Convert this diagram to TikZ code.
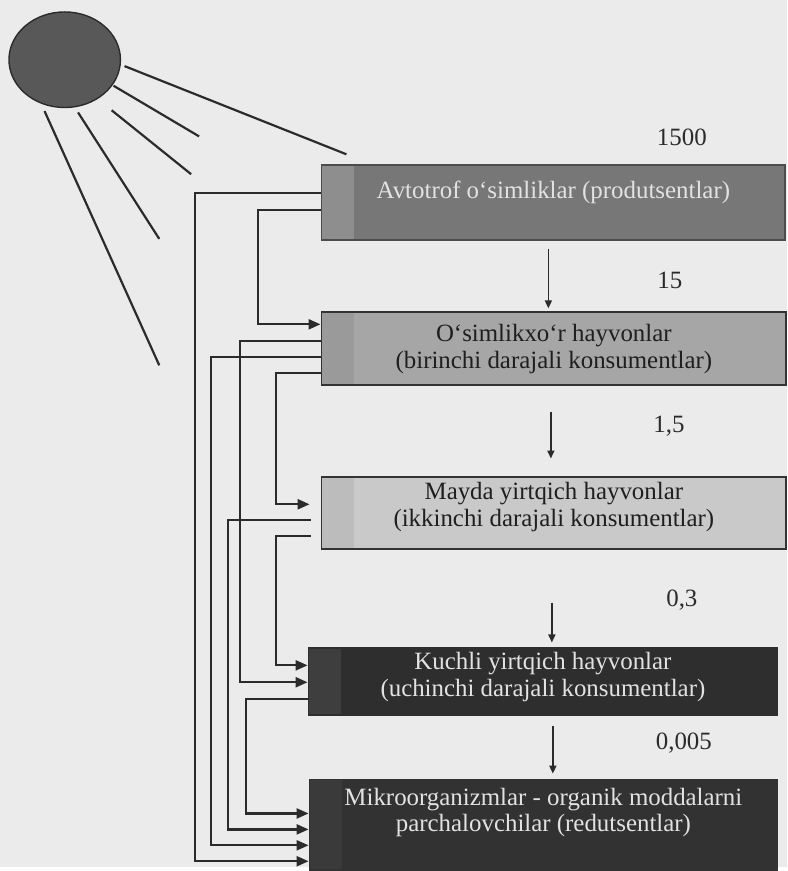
\documentclass[tikz,border=0pt]{standalone}
\usepackage{fontspec}
\setmainfont{Liberation Serif}
\usetikzlibrary{positioning,arrows.meta,shapes.geometric}

\definecolor{paper}{HTML}{EBEBEB}
\definecolor{ink}{HTML}{2B2B2B}
\definecolor{sunfill}{HTML}{585858}
\definecolor{levA}{HTML}{777777}
\definecolor{levAband}{HTML}{8E8E8E}
\definecolor{levB}{HTML}{A6A6A6}
\definecolor{levBband}{HTML}{9A9A9A}
\definecolor{levC}{HTML}{C9C9C9}
\definecolor{levCband}{HTML}{BCBCBC}
\definecolor{levD}{HTML}{2E2E2E}
\definecolor{levDband}{HTML}{3E3E3E}
\definecolor{levE}{HTML}{323232}
\definecolor{levEband}{HTML}{3A3A3A}
\definecolor{palegray}{HTML}{E2E2E2}
\definecolor{darktext}{HTML}{1F1F1F}

\begin{document}
\begin{tikzpicture}[x=1pt, y=-1pt, every node/.style={align=center, font=\fontsize{25}{27}\selectfont},
    trophbox/.style={draw=#1, line width=1.8pt, inner sep=0pt},
    leftband/.style={path picture={\fill[#1] (path picture bounding box.north west) rectangle ([xshift=33pt]path picture bounding box.south west);}},
    wire/.style={draw=ink, line width=2.3pt, -{Triangle[length=12pt,width=10pt]}},
    flow/.style={draw=ink, line width=1.6pt, -{Triangle[length=8pt,width=7pt]}},
    ray/.style={draw=ink, line width=2.2pt},
    num/.style={text=ink}]
        \fill[paper] (0,0) rectangle (791,871);
        \node[ellipse, draw=ink, fill=sunfill, line width=1.4pt, minimum width=112pt, minimum height=96pt, inner sep=0pt] (sun) at (65,60) {};
        \node[trophbox=black!70, fill=levA, leftband=levAband, text=palegray, minimum width=466pt, minimum height=75pt, text depth=26pt, anchor=north west] (b1) at (322,165) {Avtotrof o‘simliklar (produtsentlar)};
        \node[trophbox=black!80, fill=levB, leftband=levBband, text=darktext, minimum width=467pt, minimum height=73pt, below=71pt of b1.south west, anchor=north west] (b2) {O‘simlikxo‘r hayvonlar\\(birinchi darajali konsumentlar)};
        \node[trophbox=black!80, fill=levC, leftband=levCband, text=darktext, minimum width=467pt, minimum height=72pt, text depth=17pt, below=91pt of b2.south west, anchor=north west] (b3) {Mayda yirtqich hayvonlar\\(ikkinchi darajali konsumentlar)};
        \node[trophbox=levD, fill=levD, leftband=levDband, text=palegray, minimum width=471pt, minimum height=67pt, text depth=14pt, below=98pt of b3.south west, anchor=north west, xshift=-13pt] (b4) {Kuchli yirtqich hayvonlar\\(uchinchi darajali konsumentlar)};
        \node[trophbox=levE, fill=levE, leftband=levEband, text=palegray, minimum width=470pt, minimum height=91pt, text depth=30pt, below=63pt of b4.south west, anchor=north west, xshift=1pt] (b5) {Mikroorganizmlar - organik moddalarni\\parchalovchilar (redutsentlar)};
        \node[num] (q1) at (685,138) {1500};
        \node[num] (q2) at (673,282) {15};
        \node[num] (q3) at (672,428) {1,5};
        \node[num] (q4) at (685,603) {0,3};
        \node[num] (q5) at (687,747) {0,005};
        \coordinate (r1) at (348,155);
        \coordinate (r2) at (200,137);
        \coordinate (r3) at (192,175);
        \coordinate (r4) at (160,240);
        \coordinate (r5) at (160,367);
        \draw[ray, shorten <=4pt] (sun.-5) -- (r1);
        \draw[ray, shorten <=1pt] (sun.-28) -- (r2);
        \draw[ray, shorten <=18pt] (sun.-50) -- (r3);
        \draw[ray, shorten <=6pt] (sun.-78) -- (r4);
        \draw[ray, shorten <=8pt] (sun.-118) -- (r5);
        \draw[flow, shorten <=8pt, shorten >=3pt] ([xshift=-5pt]b1.south) -- ([xshift=-5pt]b1.south |- b2.north);
        \draw[flow, shorten <=26pt, shorten >=18pt] ([xshift=-3pt]b2.south) -- ([xshift=-3pt]b2.south |- b3.north);
        \draw[flow, shorten <=53pt, shorten >=5pt] ([xshift=-2pt]b3.south) -- ([xshift=-2pt]b3.south |- b4.north);
        \draw[flow, shorten <=10pt, shorten >=5pt] ([xshift=10pt]b4.south) -- ([xshift=10pt]b4.south |- b5.north);
        \draw[wire] ([yshift=-29pt]b1.north west) -- ++(-126,0) |- ([yshift=-83pt]b5.north west);
        \draw[wire] ([yshift=-46pt]b1.north west) -- ++(-63,0) |- ([yshift=-13pt]b2.north west);
        \draw[wire] ([yshift=-30pt]b2.north west) -- ++(-81,0) |- ([yshift=-35pt]b4.north west);
        \draw[wire] ([yshift=-46pt]b2.north west) -- ++(-110,0) |- ([yshift=-67pt]b5.north west);
        \draw[wire, shorten >=11pt] ([yshift=-62pt]b2.north west) -- ++(-45,0) |- ([yshift=-28pt]b3.north west);
        \draw[wire, shorten <=10pt] ([yshift=-44pt]b3.north west) -- ++(-93,0) |- ([yshift=-51pt]b5.north west);
        \draw[wire, shorten <=10pt] ([yshift=-60pt]b3.north west) -- ++(-45,0) |- ([yshift=-18pt]b4.north west);
        \draw[wire] ([yshift=-52pt]b4.north west) -- ++(-62,0) |- ([yshift=-35pt]b5.north west);
    \end{tikzpicture}
\end{document}
